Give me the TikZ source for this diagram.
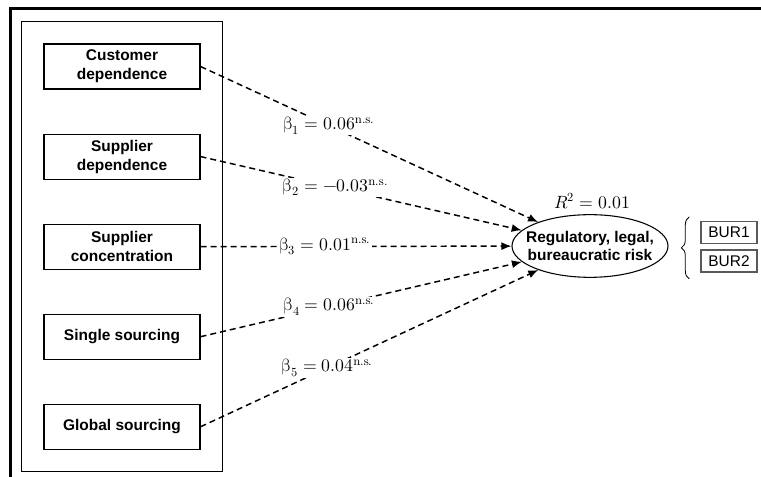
\documentclass[tikz,border=0pt]{standalone}
\usepackage{fontspec}
\usepackage{unicode-math}
\newfontfamily\helv{Liberation Sans}
\usetikzlibrary{shapes}
\usetikzlibrary{arrows.meta}
\usetikzlibrary{positioning}
\usetikzlibrary{fit}
\usetikzlibrary{calc}
\usetikzlibrary{decorations.pathreplacing}
\tikzset{
	varbox/.style = {rectangle, draw=black, line width=0.8pt, align=center,
		minimum width=117pt, minimum height=33.75pt, inner sep=0pt,
		font=\helv\bfseries\fontsize{11.6}{14.2}\selectfont},% exogenous construct
	groupbox/.style = {rectangle, draw=black, line width=0.8pt, inner sep=16.5pt},
	riskell/.style = {ellipse, draw=black, line width=0.8pt, inner sep=0pt,
		minimum width=117pt, minimum height=47pt},% latent outcome
	risktext/.style = {align=center, inner sep=0pt,
		font=\helv\bfseries\fontsize{11.6}{14.2}\selectfont},
	indbox/.style = {rectangle, draw=black!65, line width=1pt, inner sep=0pt,
		minimum width=42pt, minimum height=16.5pt,
		font=\helv\fontsize{11.6}{13}\selectfont},% indicator
	conn/.style = {->, dashed, line width=1.1pt, dash pattern=on 4.5pt off 3pt},
	beta/.style = {fill=white, inner sep=1pt, font=\fontsize{13.3}{15}\selectfont},
	curly/.style = {decorate, decoration={brace, amplitude=6pt}, line width=0.6pt}
}
\begin{document}
\begin{tikzpicture}[x=0.75pt, y=-0.75pt, >={Latex[length=7.5pt, width=6pt]}, node distance=33pt]
	\useasboundingbox (0,0) rectangle (761,477);
	\draw[line width=2.25pt] (10.5,477) -- (10.5,9) -- (761,9);
	% drivers
	\node[varbox] (cust) at (122,66.5) {Customer\\dependence};
	\node[varbox, below=of cust] (supp) {Supplier\\dependence};
	\node[varbox, below=of supp] (conc) {Supplier\\concentration};
	\node[varbox, below=of conc] (single) {Single sourcing};
	\node[varbox, below=of single] (glob) {Global sourcing};
	\node[groupbox, fit=(cust)(glob)] (drivers) {};
	% outcome
	\node[riskell, label={[risktext]center:Regulatory, legal,\\bureaucratic risk}] (risk) at (590,246) {};
	\node[beta, fill=none] (rsq) at (592,201) {$R^2 = 0.01$};
	\node[indbox] (bur1) at (729,232.5) {BUR1};
	\node[indbox, below=4pt of bur1] (bur2) {BUR2};
	\draw[curly] ($(bur2.south west)+(-11,6)$) -- ($(bur1.north west)+(-11,-4)$);
	% paths
	\draw[conn] (cust.east) -- node[beta, pos=0.38] {$\upbeta_1 = 0.06^{\mathrm{n.s.}}$} (risk);
	\draw[conn] (supp.east) -- node[beta, pos=0.42] {$\upbeta_2 = -0.03^{\mathrm{n.s.}}$} (risk);
	\draw[conn] (conc.east) -- node[beta, pos=0.40] {$\upbeta_3 = 0.01^{\mathrm{n.s.}}$} (risk);
	\draw[conn] (single.east) -- node[beta, pos=0.40] {$\upbeta_4 = 0.06^{\mathrm{n.s.}}$} (risk);
	\draw[conn] (glob.east) -- node[beta, pos=0.375] {$\upbeta_5 = 0.04^{\mathrm{n.s.}}$} (risk);
\end{tikzpicture}
\end{document}
